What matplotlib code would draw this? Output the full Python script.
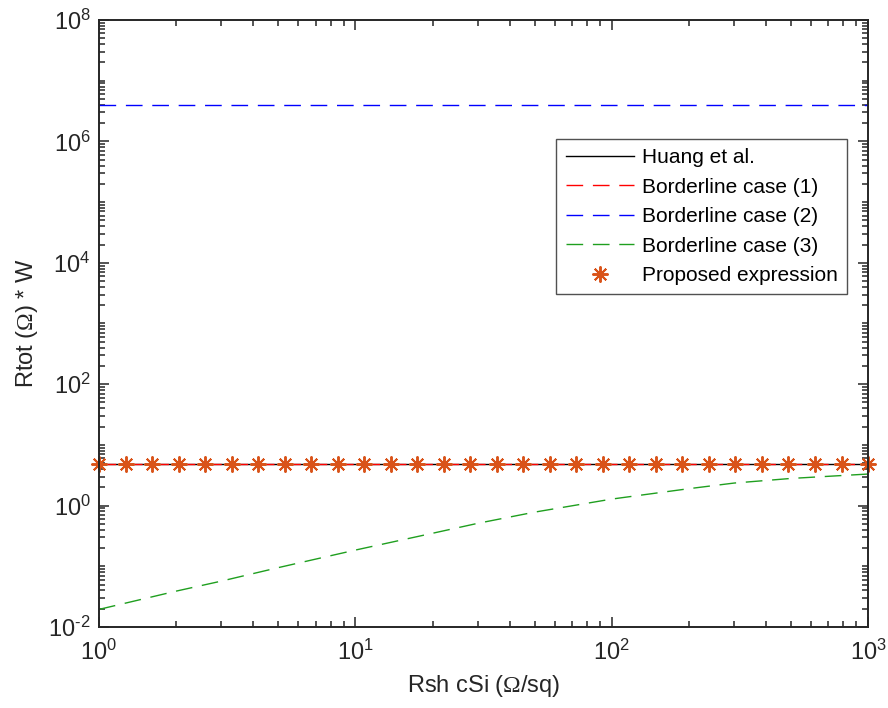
"""Total resistance vs. sheet resistance, log-log comparison."""

import matplotlib

matplotlib.use("Agg")
import matplotlib.pyplot as plt
import numpy as np
from matplotlib.ticker import (FixedLocator, FuncFormatter, LogLocator,
                               NullFormatter)

plt.rcParams["font.family"] = ["Liberation Sans", "DejaVu Sans"]
plt.rcParams["mathtext.fontset"] = "custom"
plt.rcParams["mathtext.rm"] = "Liberation Sans"
plt.rcParams["mathtext.it"] = "Liberation Sans"
plt.rcParams["mathtext.sf"] = "Liberation Serif"
plt.rcParams["mathtext.default"] = "regular"
plt.rcParams["axes.unicode_minus"] = False

# data
rsh_axis = [1, 1000]
huang = [4.85, 4.85]
case1 = [4.85, 4.85]
case2 = [3.98e6, 3.98e6]

case3_x = [1, 2, 3, 5, 10, 20, 30, 50, 100, 200, 300, 500, 1000]
case3_y = [0.0195, 0.039, 0.057, 0.095, 0.185, 0.35, 0.51, 0.78, 1.28,
           1.9, 2.35, 2.8, 3.31]

proposed_x = np.logspace(0, 3, 30)
proposed_y = [4.85] * 30

ink = "#262626"


def pow10(v, pos):
    e = int(round(np.log10(v)))
    if e < 0:
        return r"$10^{\text{-}%d}$" % (-e)
    return r"$10^{%d}$" % e


fig = plt.figure(figsize=(8.88, 7.08), dpi=100)
ax = fig.add_axes([0.1115, 0.1144, 0.866, 0.8574])

dash = (12, 7)
ax.plot(rsh_axis, huang, color="black", lw=1.0, label="Huang et al.")
ax.plot(rsh_axis, case1, color="red", lw=1.0, dashes=dash,
        label="Borderline case (1)")
ax.plot(rsh_axis, case2, color="blue", lw=1.0, dashes=dash,
        label="Borderline case (2)")
ax.plot(case3_x, case3_y, color="#1f9f1f", lw=1.0, dashes=dash,
        label="Borderline case (3)")
ax.plot(proposed_x, proposed_y, ls="none", marker=(8, 2, 0), ms=11.5,
        mew=1.4, color="#D95319", label="Proposed expression", clip_on=False)

ax.set_xscale("log")
ax.set_yscale("log")
ax.set_xlim(1, 1000)
ax.set_ylim(1e-2, 1e8)

ax.xaxis.set_major_locator(FixedLocator([1, 10, 100, 1000]))
ax.yaxis.set_major_locator(FixedLocator([1e-2, 1e0, 1e2, 1e4, 1e6, 1e8]))
ax.xaxis.set_major_formatter(FuncFormatter(pow10))
ax.yaxis.set_major_formatter(FuncFormatter(pow10))
ax.xaxis.set_minor_locator(LogLocator(base=10, subs=np.arange(2, 10), numticks=20))
ax.yaxis.set_minor_locator(LogLocator(base=10, subs=np.arange(1, 10), numticks=30))
ax.yaxis.set_minor_formatter(NullFormatter())
ax.xaxis.set_minor_formatter(NullFormatter())

ax.tick_params(which="both", direction="in", top=True, right=True,
               colors=ink, labelsize=17, width=1.1)
ax.tick_params(which="major", length=7)
ax.tick_params(which="minor", length=4)
ax.tick_params(axis="x", pad=9)
ax.tick_params(axis="y", pad=6)
for s in ax.spines.values():
    s.set_color(ink)
    s.set_linewidth(1.4)

ax.set_xlabel(r"Rsh cSi ($\mathsf{Ω}$/sq)", fontsize=17, color=ink,
              labelpad=6)
ax.set_ylabel(r"Rtot ($\mathsf{Ω}$) * W", fontsize=17, color=ink,
              labelpad=6)

leg = ax.legend(loc="upper right", bbox_to_anchor=(0.9727, 0.804),
                fontsize=15, frameon=True, fancybox=False, handlelength=3.3,
                handletextpad=0.35, labelspacing=0.5, borderpad=0.45,
                borderaxespad=0)
leg.get_frame().set_edgecolor(ink)
leg.get_frame().set_linewidth(1.0)

fig.savefig("out.png", dpi=100)
